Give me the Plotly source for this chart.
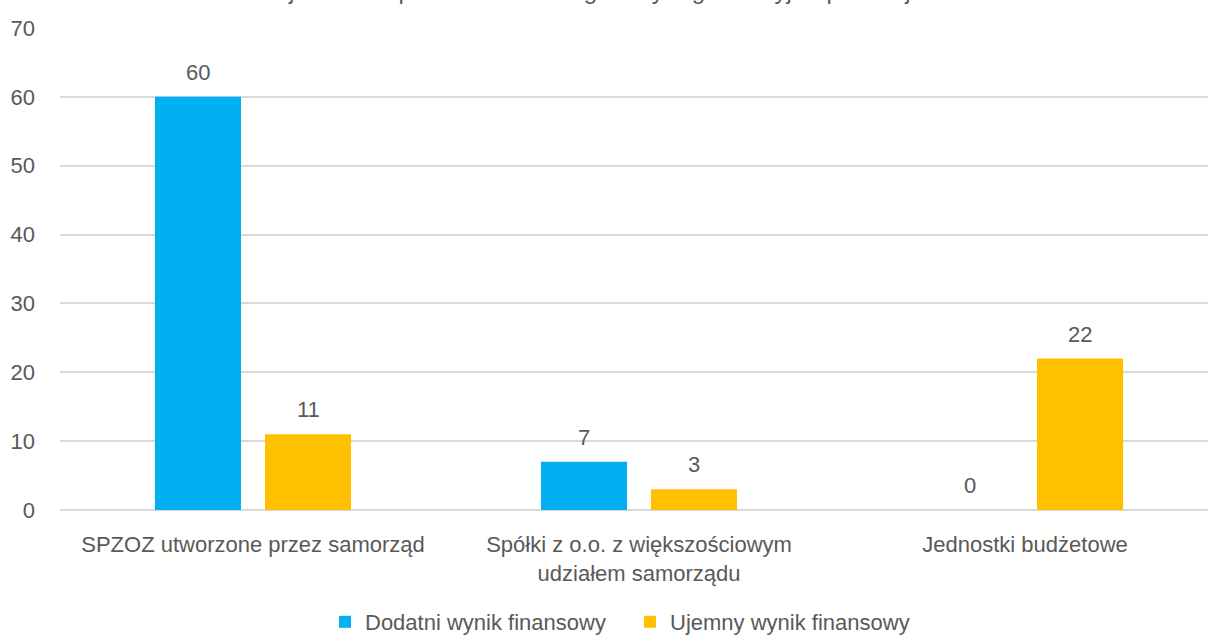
import plotly.graph_objects as go

categories = ["SPZOZ utworzone przez samorząd",
              "Spółki z o.o. z większościowym<br>udziałem samorządu",
              "Jednostki budżetowe"]
series_names = ["Dodatni wynik finansowy", "Ujemny wynik finansowy"]
dodatni = [60, 7, 0]
ujemny = [11, 3, 22]
y_ticks = [0, 10, 20, 30, 40, 50, 60, 70]
title_text = "jednostek podmiotów według formy organizacyjno-prawnej"

colors = ["#00B0F0", "#FFC000"]
FONT = "Liberation Sans, Arial, sans-serif"
TXT = "#595959"
FS = 22

fig = go.Figure()
for name, vals, col in zip(series_names, [dodatni, ujemny], colors):
    fig.add_trace(go.Bar(x=categories, y=vals, name=name, marker_color=col,
                         marker_line_width=0, hoverinfo="x+y+name"))

# data labels above bars
for k, vals in enumerate([dodatni, ujemny]):
    for c, v in zip(categories, vals):
        fig.add_annotation(x=c, y=v, xref="x", yref="y", text=str(v),
                           showarrow=False, yanchor="bottom",
                           xshift=(-55 if k == 0 else 55), yshift=10,
                           font=dict(family=FONT, size=FS, color=TXT))

# title (clipped at the top edge, as in the reference)
fig.add_annotation(x=0.47, y=1, xref="paper", yref="paper", text=title_text,
                   showarrow=False, yanchor="bottom", yshift=22,
                   font=dict(family=FONT, size=24, color=TXT))

fig.update_layout(
    width=1208, height=637,
    margin=dict(l=60, r=0, t=28, b=127),
    paper_bgcolor="white", plot_bgcolor="white",
    barmode="group", bargap=0.43, bargroupgap=0.218,
    font=dict(family=FONT, size=FS, color=TXT),
    showlegend=True,
    legend=dict(orientation="h", xref="container", yref="container",
                x=325 / 1208, xanchor="left", y=1 - 622 / 637, yanchor="middle",
                entrywidth=260, entrywidthmode="pixels",
                font=dict(family=FONT, size=FS, color=TXT)),
    xaxis=dict(range=[-0.5, 2.474], showgrid=False, showline=False, ticks="",
               automargin=False,
               tickfont=dict(family=FONT, size=FS, color=TXT), ticklabelstandoff=19),
    yaxis=dict(range=[0, 70], tickvals=y_ticks, showgrid=True, gridcolor="#D9D9D9",
               gridwidth=1.5, zeroline=True, zerolinecolor="#D9D9D9", zerolinewidth=1.5,
               showline=False, ticks="", automargin=False,
               tickfont=dict(family=FONT, size=FS, color=TXT),
               ticklabelstandoff=24),
)

fig.write_html("out.html", config={"displayModeBar": False},
               post_script="document.body.style.margin='0px';")
